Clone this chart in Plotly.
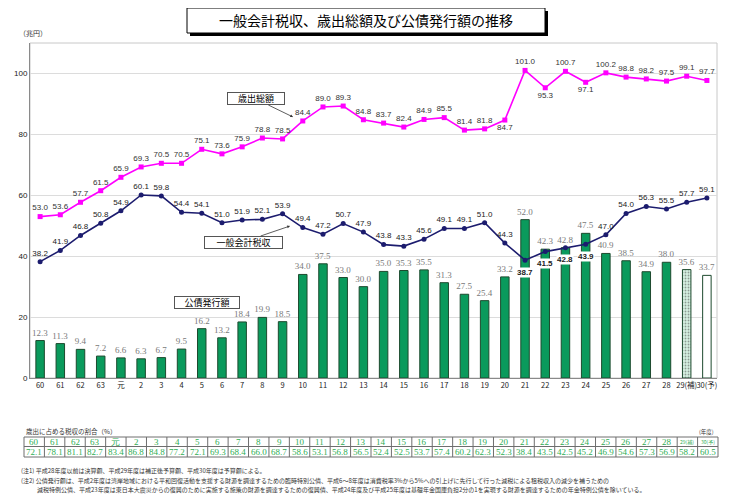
import plotly.graph_objects as go

# ---------------- data ----------------
years = ["60", "61", "62", "63", "元"] + [str(i) for i in range(2, 29)] + ["29(補)", "30(予)"]
expenditure = [53.0, 53.6, 57.7, 61.5, 65.9, 69.3, 70.5, 70.5, 75.1, 73.6, 75.9, 78.8, 78.5, 84.4,
               89.0, 89.3, 84.8, 83.7, 82.4, 84.9, 85.5, 81.4, 81.8, 84.7, 101.0, 95.3, 100.7, 97.1,
               100.2, 98.8, 98.2, 97.5, 99.1, 97.7]
tax = [38.2, 41.9, 46.8, 50.8, 54.9, 60.1, 59.8, 54.4, 54.1, 51.0, 51.9, 52.1, 53.9, 49.4, 47.2,
       50.7, 47.9, 43.8, 43.3, 45.6, 49.1, 49.1, 51.0, 44.3, 38.7, 41.5, 42.8, 43.9, 47.0, 54.0,
       56.3, 55.5, 57.7, 59.1]
bonds = [12.3, 11.3, 9.4, 7.2, 6.6, 6.3, 6.7, 9.5, 16.2, 13.2, 18.4, 19.9, 18.5, 34.0, 37.5, 33.0,
         30.0, 35.0, 35.3, 35.5, 31.3, 27.5, 25.4, 33.2, 52.0, 42.3, 42.8, 47.5, 40.9, 38.5, 34.9,
         38.0, 35.6, 33.7]
ratio = [72.1, 78.1, 81.1, 82.7, 83.4, 86.8, 84.8, 77.2, 72.1, 69.3, 68.4, 66.0, 68.7, 58.6, 53.1,
         56.8, 56.5, 52.4, 52.5, 53.7, 57.4, 60.2, 62.3, 52.3, 38.4, 43.5, 42.5, 45.2, 46.9, 54.6,
         57.3, 56.9, 58.2, 60.5]
exp_below = {"20", "22", "24"}          # expenditure labels placed under the point
tax_boxed = {"21", "22", "23", "24"}    # tax labels placed under the point on white boxes
title = "一般会計税収、歳出総額及び公債発行額の推移"
notes = [
    "(注1) 平成28年度以前は決算額、平成29年度は補正後予算額、平成30年度は予算額による。",
    "(注2) 公債発行額は、平成2年度は湾岸地域における平和回復活動を支援する財源を調達するための臨時特別公債、平成6～8年度は消費税率3%から5%への引上げに先行して行った減税による租税収入の減少を補うための",
    "減税特例公債、平成23年度は東日本大震災からの復興のために実施する施策の財源を調達するための復興債、平成24年度及び平成25年度は基礎年金国庫負担2分の1を実現する財源を調達するための年金特例公債を除いている。",
]

# ---------------- geometry helpers ----------------
# the page body has an 8px margin, so the figure is drawn 8px right/down
OFF = 8
WIDTH, HEIGHT = 735 - 2 * OFF, 504 - 2 * OFF
ML, MT = 30 - OFF, 43 - OFF
PW, PH = 687, 335
MR, MB = WIDTH - ML - PW, HEIGHT - MT - PH


def xp(px):
    return (px - OFF - ML) / PW


def yp(py):
    return (HEIGHT - MB - (py - OFF)) / PH


CJK = "Noto Sans CJK JP"
SANS = "Liberation Sans"
SERIF = "Liberation Serif"
n = len(years)
xs = list(range(n))

fig = go.Figure()

# bars
bar_colors = ["#0a9a5c"] * (n - 2) + ["#d6f1e2", "#ffffff"]
pattern_shapes = [""] * (n - 2) + [".", ""]
fig.add_trace(go.Bar(
    x=xs, y=bonds, width=0.42,
    marker=dict(color=bar_colors, line=dict(color="#1d4a2e", width=1),
                pattern=dict(shape=pattern_shapes, fgcolor="#7ccc9f", size=3, solidity=0.3)),
    text=[f"{v:.1f}" for v in bonds], textposition="outside", constraintext="none",
    textfont=dict(family=SERIF, size=9, color="#7a7a7a"),
    cliponaxis=False, showlegend=False,
))

# expenditure line
fig.add_trace(go.Scatter(
    x=xs, y=expenditure, mode="lines+markers+text",
    line=dict(color="#ff00ff", width=1.6),
    marker=dict(symbol="square", size=5, color="#ff00ff"),
    text=[f"{v:.1f}" for v in expenditure],
    textposition=["bottom center" if y in exp_below else "top center" for y in years],
    textfont=dict(family=SANS, size=8, color="#333333"),
    cliponaxis=False, showlegend=False,
))

# tax line
fig.add_trace(go.Scatter(
    x=xs, y=tax, mode="lines+markers+text",
    line=dict(color="#1c1c6e", width=1.6),
    marker=dict(symbol="circle", size=5, color="#1c1c6e"),
    text=["" if y in tax_boxed else f"{v:.1f}" for y, v in zip(years, tax)],
    textposition="top center",
    textfont=dict(family=SANS, size=8, color="#222222"),
    cliponaxis=False, showlegend=False,
))

annotations = []
for i, (y, v) in enumerate(zip(years, tax)):
    if y in tax_boxed:
        annotations.append(dict(x=i, y=v, xref="x", yref="y", text=f"<b>{v:.1f}</b>", showarrow=False,
                                xanchor="center", yanchor="middle",
                                yshift=-12, bgcolor="white", borderpad=0,
                                font=dict(family=SANS, size=8, color="#222222")))


def pann(px, py, text, size, color="#333333", family=CJK, xanchor="center", **kw):
    return dict(x=xp(px), y=yp(py), xref="paper", yref="paper", text=text, showarrow=False,
                xanchor=xanchor, yanchor="middle", font=dict(family=family, size=size, color=color), **kw)


shapes = []
# plot frame
shapes.append(dict(type="rect", xref="paper", yref="paper", x0=0, y0=0, x1=1, y1=1,
                   line=dict(color="#c8c8c8", width=1), layer="below"))

# title box with shadow
shapes.append(dict(type="rect", xref="paper", yref="paper", x0=xp(190), x1=xp(548), y0=yp(36), y1=yp(11),
                   fillcolor="#000000", line=dict(width=0)))
shapes.append(dict(type="rect", xref="paper", yref="paper", x0=xp(187), x1=xp(545), y0=yp(33), y1=yp(8),
                   fillcolor="#ffffff", line=dict(color="#000000", width=1)))
annotations.append(pann(366, 20.5, title, 14, color="#000000"))
annotations.append(pann(33, 33, "（兆円）", 7))

# series annotation boxes
box_style = dict(xref="paper", yref="paper", bgcolor="white", bordercolor="#555555", borderwidth=1,
                 borderpad=1, font=dict(family=CJK, size=9, color="#000000"), height=9)
annotations.append(dict(x=xp(293), y=yp(117), text="歳出総額", showarrow=True, ax=-37, ay=-18,
                        arrowhead=2, arrowsize=0.7, arrowwidth=0.8, arrowcolor="#333333",
                        width=54, **box_style))
annotations.append(dict(x=xp(290), y=yp(226), text="一般会計税収", showarrow=True, ax=-47, ay=16,
                        arrowhead=2, arrowsize=0.7, arrowwidth=0.8, arrowcolor="#333333",
                        width=75, **box_style))
annotations.append(dict(x=xp(207), y=yp(302.5), text="公債発行額", showarrow=False,
                        xanchor="center", yanchor="middle", width=62, **box_style))

# ---------------- ratio table ----------------
T_LEFT, T_RIGHT = 24, 718
T_TOP, T_MID, T_BOT = 437, 446.5, 457
cw = (T_RIGHT - T_LEFT) / n
line_c = "#6e6e6e"
for py in (T_TOP, T_MID, T_BOT):
    shapes.append(dict(type="line", xref="paper", yref="paper", x0=xp(T_LEFT), x1=xp(T_RIGHT),
                       y0=yp(py), y1=yp(py), line=dict(color=line_c, width=1)))
for k in range(n + 1):
    px = T_LEFT + k * cw
    shapes.append(dict(type="line", xref="paper", yref="paper", x0=xp(px), x1=xp(px),
                       y0=yp(T_TOP), y1=yp(T_BOT), line=dict(color=line_c, width=1)))
green = "#2fae55"
for k, (yr, r) in enumerate(zip(years, ratio)):
    cx = T_LEFT + (k + 0.5) * cw
    small = len(yr) > 2
    annotations.append(pann(cx, (T_TOP + T_MID) / 2, yr, 5 if small else 9, color=green,
                            family=CJK if small else SERIF))
    annotations.append(pann(cx, (T_MID + T_BOT) / 2, f"{r:.1f}", 9, color=green, family=SERIF))
annotations.append(pann(24, 431, "歳出に占める税収の割合（%）", 6.5, xanchor="left"))
annotations.append(pann(716, 432, "(年度)", 5.5, xanchor="right"))

# notes
for py, px, txt in zip((470, 480, 489), (19, 19, 35), notes):
    annotations.append(pann(px, py, txt, 6, xanchor="left"))

fig.update_layout(
    width=WIDTH, height=HEIGHT,
    margin=dict(l=ML, r=MR, t=MT, b=MB, autoexpand=False),
    paper_bgcolor="white", plot_bgcolor="white",
    shapes=shapes, annotations=annotations,
    showlegend=False,
    xaxis=dict(range=[-0.5, n - 0.5], tickvals=xs, ticktext=years, showgrid=False, automargin=False,
               tickangle=0, showline=True, linecolor="#8a8a8a", linewidth=1, ticks="", zeroline=False,
               tickfont=dict(family=CJK, size=7.5, color="#222222")),
    yaxis=dict(range=[0, 110], tickvals=[0, 20, 40, 60, 80, 100], showgrid=True, gridcolor="#dcdcdc",
               gridwidth=1, showline=True, linecolor="#8a8a8a", linewidth=1, ticks="", zeroline=False,
               automargin=False, tickfont=dict(family=SANS, size=8, color="#222222")),
)

fig.write_html("out.html")
